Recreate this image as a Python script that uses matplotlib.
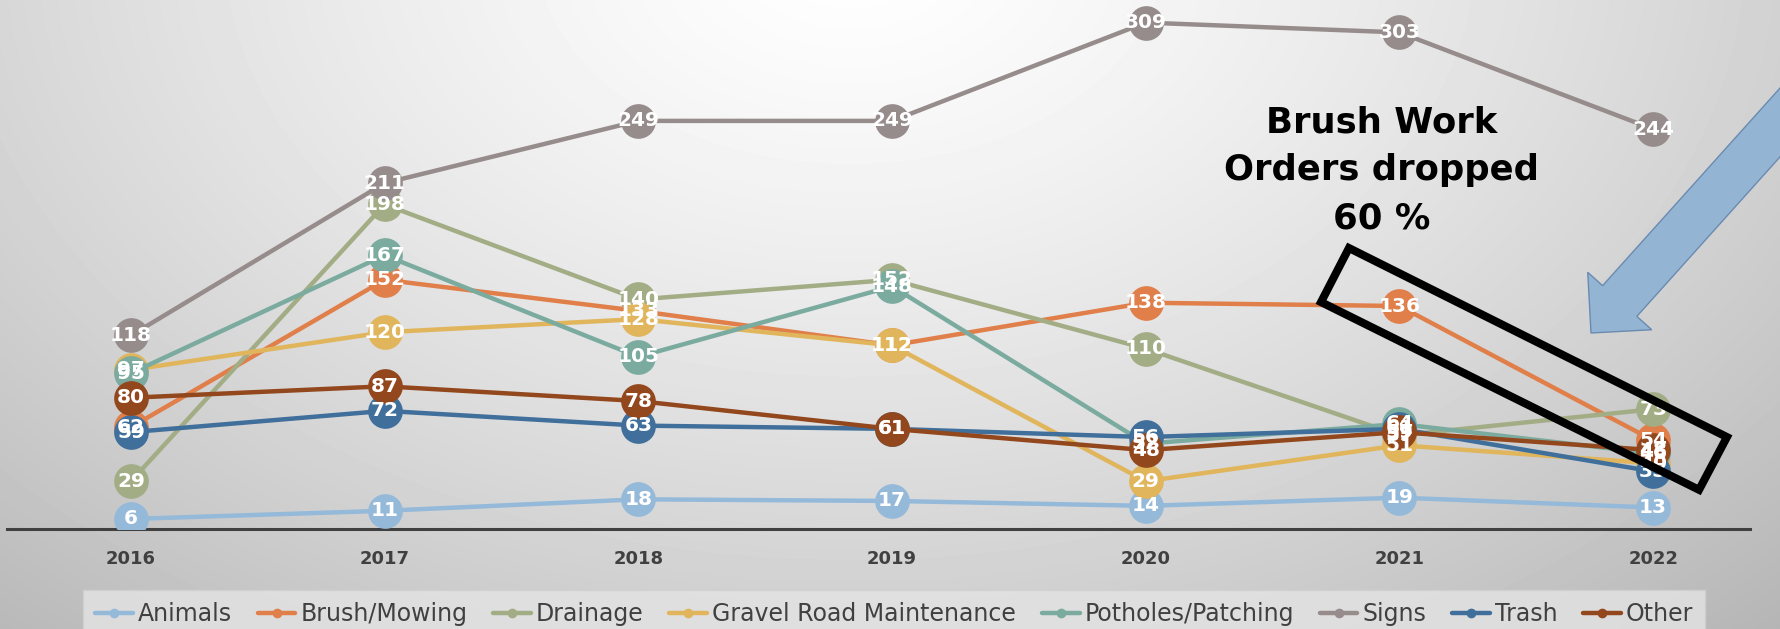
import numpy as np
import matplotlib.pyplot as plt
from matplotlib.patches import Polygon

years = ['2016', '2017', '2018', '2019', '2020', '2021', '2022']

animals = [6, 11, 18, 17, 14, 19, 13]
brush = [62, 152, 133, 112, 138, 136, 54]
drainage = [29, 198, 140, 152, 110, 57, 73]
gravel = [97, 120, 128, 112, 29, 51, 40]
potholes = [95, 167, 105, 148, 52, 64, 46]
signs = [118, 211, 249, 249, 309, 303, 244]
trash = [59, 72, 63, 61, 56, 61, 35]
other = [80, 87, 78, 61, 48, 59, 48]

series_names = ['Animals', 'Brush/Mowing', 'Drainage', 'Gravel Road Maintenance',
                'Potholes/Patching', 'Signs', 'Trash', 'Other']
series_values = [animals, brush, drainage, gravel, potholes, signs, trash, other]
series_colors = ['#95b9d9', '#e07f4a', '#a3ad85', '#e0b55c',
                 '#7bab9f', '#978c8c', '#3f6f9a', '#93471d']

W, H = 1781, 629
fig = plt.figure(figsize=(W / 100, H / 100), dpi=100)

# background: soft radial gray gradient, brightest at top centre
bg = fig.add_axes([0, 0, 1, 1], zorder=-10)
yy, xx = np.mgrid[0:H, 0:W]
r = np.sqrt(((xx - 850) / 1100) ** 2 + ((yy + 50) / 750) ** 2)
shade = np.clip(1.0 - 0.22 * r ** 1.3, 0, 1)
bg.imshow(shade, cmap='gray', vmin=0, vmax=1, aspect='auto', interpolation='bilinear')
bg.axis('off')

ax = fig.add_axes([0, 100.2 / H, 1, 528.8 / H])
ax.set_facecolor('none')
x = np.arange(len(years))

for name, vals, col in zip(series_names, series_values, series_colors):
    ax.plot(x, vals, color=col, lw=3.2, marker='o', markersize=25,
            markeredgewidth=0, label=name, solid_capstyle='round', zorder=3)

for vals in series_values:
    for xi, v in zip(x, vals):
        ax.text(xi, v, str(v), ha='center', va='center', color='white',
                fontsize=14.5, fontweight='bold', zorder=5)

ax.set_xlim(-0.516, 6.504)
ax.set_ylim(0, 322.8)
ax.set_xticks(x)
ax.set_xticklabels(years, fontsize=13, fontweight='bold', color='#404040')
ax.tick_params(axis='x', length=0, pad=15)
ax.set_yticks([])
for s in ['top', 'right', 'left']:
    ax.spines[s].set_visible(False)
ax.spines['bottom'].set_color('#404040')
ax.spines['bottom'].set_linewidth(2.2)
ax.spines['bottom'].set_bounds(-0.49, 6.38)

# callout text and box around the 2021-2022 brush drop
ax.text(4.93, 219, 'Brush Work\nOrders dropped\n60 %', ha='center', va='center',
        fontsize=25.5, fontweight='bold', color='black', linespacing=1.52, zorder=6)
box = Polygon([(4.801, 171.4), (4.691, 138.4), (6.181, 23.8), (6.291, 56.0)],
              closed=True, fill=False, edgecolor='black', lw=5.8,
              joinstyle='miter', zorder=6)
ax.add_patch(box)

# big blue block arrow (figure pixel geometry)
tip = np.array([1591.0, 333.0])
u = np.array([-0.668, 0.744])
p = np.array([0.744, 0.668])
base = tip - 43 * u
tail = base - 380 * u
pts = [tail + 23 * p, base + 23 * p, base + 43 * p, tip,
       base - 43 * p, base - 23 * p, tail - 23 * p]
pts = [(px / W, 1 - py / H) for px, py in pts]
arrow = Polygon(pts, closed=True, facecolor='#94b4d4', edgecolor='#6a8bb0',
                lw=1, transform=fig.transFigure, zorder=7)
fig.patches.append(arrow)

leg = fig.legend(loc='upper center', bbox_to_anchor=(0.502, 39 / H), ncol=8,
                 frameon=True, fontsize=17, handlelength=1.6, handletextpad=0.2,
                 columnspacing=1.1, borderpad=0.5, borderaxespad=0, fancybox=False)
leg.get_frame().set_facecolor('#e4e4e4')
leg.get_frame().set_edgecolor('#d0d0d0')
for h in leg.legend_handles:
    h.set_markersize(7)
for t in leg.get_texts():
    t.set_color('#404040')

fig.savefig('out.png', dpi=100)
